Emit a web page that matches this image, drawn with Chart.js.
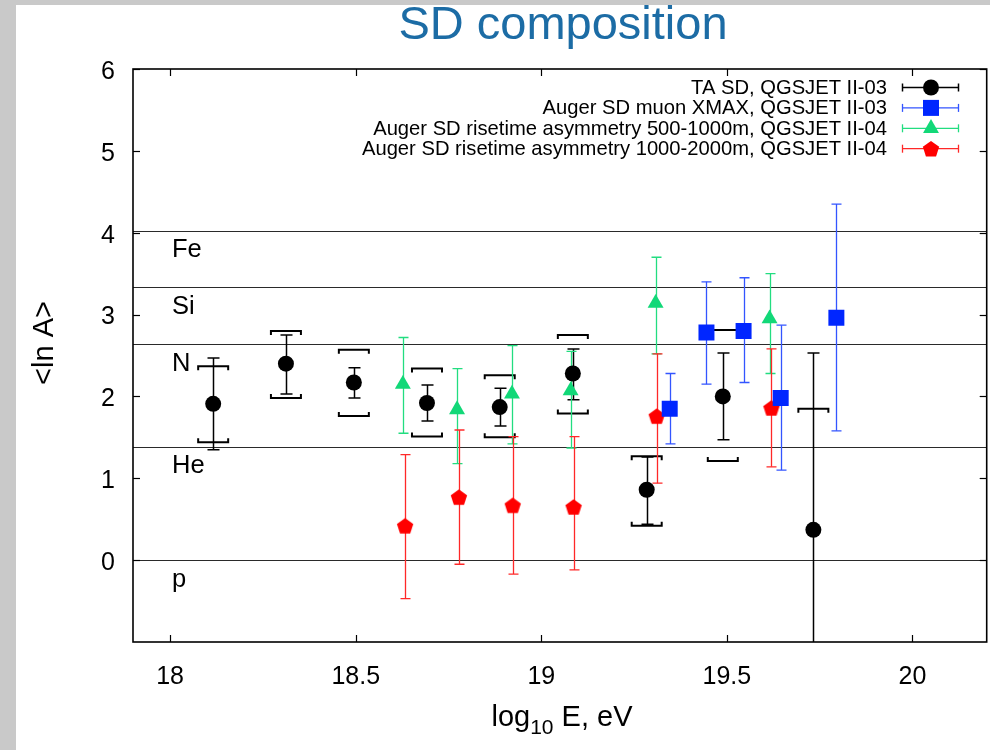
<!DOCTYPE html>
<html><head><meta charset="utf-8">
<script src="https://cdn.jsdelivr.net/npm/chart.js@4/dist/chart.umd.min.js"></script>
<style>html,body{margin:0;padding:0;background:#fff;overflow:hidden;width:990px;height:750px;}canvas{display:block;}</style>
</head><body>
<canvas id="c" width="990" height="750"></canvas>
<script>
// ---------- data ----------
const xTicks = [18, 18.5, 19, 19.5, 20];
const yTicks = [0, 1, 2, 3, 4, 5, 6];
const seriesNames = [
  'TA SD, QGSJET II-03',
  'Auger SD muon XMAX, QGSJET II-03',
  'Auger SD risetime asymmetry 500-1000m, QGSJET II-04',
  'Auger SD risetime asymmetry 1000-2000m, QGSJET II-04'
];
const elementNames = ['Fe', 'Si', 'N', 'He', 'p'];
const elementLnA = [4.025, 3.332, 2.639, 1.386, 0];

// TA SD
const taX    = [18.116, 18.312, 18.495, 18.692, 18.888, 19.085, 19.284, 19.489, 19.733];
const taY    = [1.91, 2.40, 2.17, 1.92, 1.87, 2.28, 0.86, 2.00, 0.37];
const taHi   = [2.47, 2.75, 2.35, 2.14, 2.10, 2.58, 1.26, 2.53, 2.53];
const taLo   = [1.35, 2.03, 1.98, 1.70, 1.64, 1.96, 0.44, 1.47, -1.6];
const taSysHi = [2.37, 2.80, 2.57, 2.34, 2.26, 2.75, 1.27, 2.81, 1.85];
const taSysLo = [1.44, 1.98, 1.76, 1.51, 1.50, 1.79, 0.42, 1.21, null];

// Auger SD muon XMAX
const muX  = [19.346, 19.445, 19.545, 19.645, 19.795];
const muY  = [1.85, 2.78, 2.80, 1.98, 2.96];
const muHi = [2.28, 3.40, 3.45, 2.87, 4.35];
const muLo = [1.42, 2.15, 2.17, 1.10, 1.58];

// Auger risetime 500-1000 m
const r1X  = [18.627, 18.773, 18.921, 19.079, 19.308, 19.615];
const r1Y  = [2.15, 1.84, 2.03, 2.07, 3.14, 2.95];
const r1Hi = [2.72, 2.34, 2.62, 2.55, 3.70, 3.50];
const r1Lo = [1.55, 1.18, 1.42, 1.37, 2.52, 2.28];

// Auger risetime 1000-2000 m
const r2X  = [18.633, 18.778, 18.923, 19.087, 19.311, 19.620];
const r2Y  = [0.42, 0.77, 0.67, 0.65, 1.76, 1.86];
const r2Hi = [1.29, 1.59, 1.51, 1.51, 2.52, 2.58];
const r2Lo = [-0.47, -0.05, -0.17, -0.12, 0.94, 1.14];

// ---------- styling ----------
const FONT = '"Liberation Sans", Arial, sans-serif';
const COLORS = {
  ta: '#000000', taBar: '#000000',
  mu: '#0026ff', muBar: '#3355ff',
  r1: '#12d878', r1Bar: '#22dd80',
  r2: '#ff0000', r2Bar: '#ff2828'
};
const TARGET_RIGHT = 987;

function pentagonPath(ctx, cx, cy, R) {
  ctx.beginPath();
  for (let i = 0; i < 5; i++) {
    const a = -Math.PI / 2 + i * 2 * Math.PI / 5;
    const px = cx + R * Math.cos(a), py = cy + R * Math.sin(a);
    if (i === 0) ctx.moveTo(px, py); else ctx.lineTo(px, py);
  }
  ctx.closePath();
}
const pentImg = document.createElement('canvas');
pentImg.width = 20; pentImg.height = 20;
(function () {
  const g = pentImg.getContext('2d');
  g.fillStyle = COLORS.r2;
  pentagonPath(g, 10, 10.8, 8.6);
  g.fill();
})();

function pts(xs, ys) { return xs.map((v, i) => ({ x: v, y: ys[i] })); }

function drawMarker(ctx, kind, x, y, color) {
  ctx.fillStyle = color;
  ctx.beginPath();
  if (kind === 'circle') { ctx.arc(x, y, 8, 0, Math.PI * 2); ctx.fill(); }
  else if (kind === 'rect') { ctx.fillRect(x - 8, y - 8, 16, 16); }
  else if (kind === 'triangle') {
    const r = 9.2;
    ctx.moveTo(x, y - r);
    ctx.lineTo(x + r * Math.sin(Math.PI / 3), y + r / 2);
    ctx.lineTo(x - r * Math.sin(Math.PI / 3), y + r / 2);
    ctx.closePath(); ctx.fill();
  } else if (kind === 'pent') { pentagonPath(ctx, x, y + 0.8, 8.6); ctx.fill(); }
}

function seg(ctx, x1, y1, x2, y2) { ctx.beginPath(); ctx.moveTo(x1, y1); ctx.lineTo(x2, y2); ctx.stroke(); }

const custom = {
  id: 'custom',
  beforeDraw(chart) {
    const c = chart.ctx;
    c.save();
    c.fillStyle = '#c9c9c9'; c.fillRect(0, 0, chart.width, 750);
    c.fillStyle = '#ffffff'; c.fillRect(16, 5, chart.width, 745);
    c.restore();
  },
  beforeDatasetsDraw(chart) {
    const { ctx, chartArea: a, scales: { x, y } } = chart;
    ctx.save();
    ctx.beginPath(); ctx.rect(a.left, a.top, a.right - a.left, a.bottom - a.top); ctx.clip();
    // element reference lines
    ctx.strokeStyle = '#2a2a2a'; ctx.lineWidth = 1.2;
    elementLnA.forEach(v => { const py = Math.round(y.getPixelForValue(v)) + 0.5; seg(ctx, a.left, py, a.right, py); });
    ctx.fillStyle = '#000'; ctx.font = '25.5px ' + FONT; ctx.textBaseline = 'top'; ctx.textAlign = 'left';
    elementNames.forEach((e, i) => ctx.fillText(e, 172, y.getPixelForValue(elementLnA[i]) + 7));

    function errs(xs, lo, hi, color, lw, cap) {
      ctx.strokeStyle = color; ctx.lineWidth = lw;
      xs.forEach((xv, i) => {
        const px = Math.round(x.getPixelForValue(xv)) + 0.5;
        const p1 = y.getPixelForValue(lo[i]), p2 = y.getPixelForValue(hi[i]);
        seg(ctx, px, p1, px, p2);
        seg(ctx, px - cap, p1, px + cap, p1);
        seg(ctx, px - cap, p2, px + cap, p2);
      });
    }
    errs(taX, taLo, taHi, COLORS.taBar, 1.5, 6);
    // systematic brackets (TA)
    ctx.strokeStyle = '#000'; ctx.lineWidth = 2;
    taX.forEach((xv, i) => {
      const px = x.getPixelForValue(xv);
      if (taSysHi[i] !== null) {
        const py = y.getPixelForValue(taSysHi[i]);
        ctx.beginPath(); ctx.moveTo(px - 15, py + 4); ctx.lineTo(px - 15, py); ctx.lineTo(px + 15, py); ctx.lineTo(px + 15, py + 4); ctx.stroke();
      }
      if (taSysLo[i] !== null) {
        const py = y.getPixelForValue(taSysLo[i]);
        ctx.beginPath(); ctx.moveTo(px - 15, py - 4); ctx.lineTo(px - 15, py); ctx.lineTo(px + 15, py); ctx.lineTo(px + 15, py - 4); ctx.stroke();
      }
    });
    errs(muX, muLo, muHi, COLORS.muBar, 1.3, 5);
    errs(r1X, r1Lo, r1Hi, COLORS.r1Bar, 1.3, 5);
    errs(r2X, r2Lo, r2Hi, COLORS.r2Bar, 1.3, 5);
    ctx.restore();
  },
  afterDatasetsDraw(chart) {
    const { ctx, chartArea: a, scales: { x, y } } = chart;
    ctx.save();
    // frame
    ctx.strokeStyle = '#000'; ctx.lineWidth = 1.6;
    ctx.strokeRect(a.left, a.top, a.right - a.left, a.bottom - a.top);
    // inward ticks on all sides
    ctx.lineWidth = 1.2;
    xTicks.forEach(v => {
      const px = Math.round(x.getPixelForValue(v)) + 0.5;
      seg(ctx, px, a.bottom, px, a.bottom - 7);
      seg(ctx, px, a.top, px, a.top + 7);
    });
    yTicks.forEach(v => {
      const py = Math.round(y.getPixelForValue(v)) + 0.5;
      seg(ctx, a.left, py, a.left + 7, py);
      seg(ctx, a.right, py, a.right - 7, py);
    });
    // legend
    const kinds = ['circle', 'rect', 'triangle', 'pent'];
    const mcol = [COLORS.ta, COLORS.mu, COLORS.r1, COLORS.r2];
    const bcol = [COLORS.taBar, COLORS.muBar, COLORS.r1Bar, COLORS.r2Bar];
    ctx.font = '20.2px ' + FONT; ctx.textAlign = 'right'; ctx.textBaseline = 'middle';
    seriesNames.forEach((n, i) => {
      const ly = 87.5 + i * 20.4;
      ctx.fillStyle = '#000';
      ctx.fillText(n, 887, ly + 1);
      ctx.strokeStyle = bcol[i]; ctx.lineWidth = i === 0 ? 1.5 : 1.3;
      seg(ctx, 902, ly, 959, ly);
      seg(ctx, 902.5, ly - 4, 902.5, ly + 4);
      seg(ctx, 958.5, ly - 4, 958.5, ly + 4);
      drawMarker(ctx, kinds[i], 931, ly, mcol[i]);
    });
    // title
    ctx.fillStyle = '#1c6ca5'; ctx.font = '47px ' + FONT; ctx.textAlign = 'center'; ctx.textBaseline = 'alphabetic';
    ctx.fillText('SD composition', 563, 39);
    // x axis title with subscript
    ctx.fillStyle = '#000';
    const f1 = '29px ' + FONT, f2 = '21px ' + FONT;
    ctx.font = f1; const wLog = ctx.measureText('log').width; const wRest = ctx.measureText(' E, eV').width;
    ctx.font = f2; const wSub = ctx.measureText('10').width;
    let sx = 562 - (wLog + wSub + wRest) / 2;
    ctx.textAlign = 'left';
    ctx.font = f1; ctx.fillText('log', sx, 726);
    ctx.font = f2; ctx.fillText('10', sx + wLog, 734);
    ctx.font = f1; ctx.fillText(' E, eV', sx + wLog + wSub, 726);
    // y axis title
    ctx.translate(45, 343); ctx.rotate(-Math.PI / 2);
    ctx.textAlign = 'center'; ctx.textBaseline = 'middle'; ctx.font = f1;
    ctx.fillText('<ln A>', 0, 0);
    ctx.restore();
  }
};

const chart = new Chart(document.getElementById('c'), {
  type: 'scatter',
  data: {
    datasets: [
      { label: seriesNames[0], data: pts(taX, taY), pointStyle: 'circle', pointRadius: 8, backgroundColor: COLORS.ta, borderColor: COLORS.ta, borderWidth: 0 },
      { label: seriesNames[1], data: pts(muX, muY), pointStyle: 'rect', pointRadius: 11.3, backgroundColor: COLORS.mu, borderColor: COLORS.mu, borderWidth: 0 },
      { label: seriesNames[2], data: pts(r1X, r1Y), pointStyle: 'triangle', pointRadius: 9.2, backgroundColor: COLORS.r1, borderColor: COLORS.r1, borderWidth: 0 },
      { label: seriesNames[3], data: pts(r2X, r2Y), pointStyle: pentImg, pointRadius: 10, backgroundColor: COLORS.r2, borderColor: COLORS.r2, borderWidth: 0 }
    ]
  },
  options: {
    responsive: false, maintainAspectRatio: false, devicePixelRatio: 1, animation: false,
    layout: { padding: { left: 0, top: 69, right: 3, bottom: 0 } },
    plugins: { legend: { display: false }, tooltip: { enabled: false }, title: { display: false } },
    scales: {
      x: {
        type: 'linear', min: 17.9, max: 20.2,
        afterBuildTicks: s => { s.ticks = xTicks.map(v => ({ value: v })); },
        afterFit: s => { s.height = 108; s.paddingLeft = 0; s.paddingRight = 0; },
        grid: { display: false, drawTicks: false }, border: { display: false },
        ticks: { padding: 20, color: '#000', font: { family: FONT, size: 25 }, maxRotation: 0, callback: v => String(v) }
      },
      y: {
        type: 'linear', min: -1, max: 6,
        afterBuildTicks: s => { s.ticks = yTicks.map(v => ({ value: v })); },
        afterFit: s => { s.width = 133; s.paddingTop = 0; s.paddingBottom = 0; },
        grid: { display: false, drawTicks: false }, border: { display: false },
        ticks: { padding: 18, labelOffset: 3, color: '#000', font: { family: FONT, size: 25 }, callback: v => String(v) }
      }
    }
  },
  plugins: [custom]
});
// widen the canvas (overflow hidden) if the layout leaves extra space at the right of the plot frame
const extra = Math.round(TARGET_RIGHT - chart.chartArea.right);
if (extra > 0) { chart.resize(990 + extra, 750); }
</script>
</body></html>
